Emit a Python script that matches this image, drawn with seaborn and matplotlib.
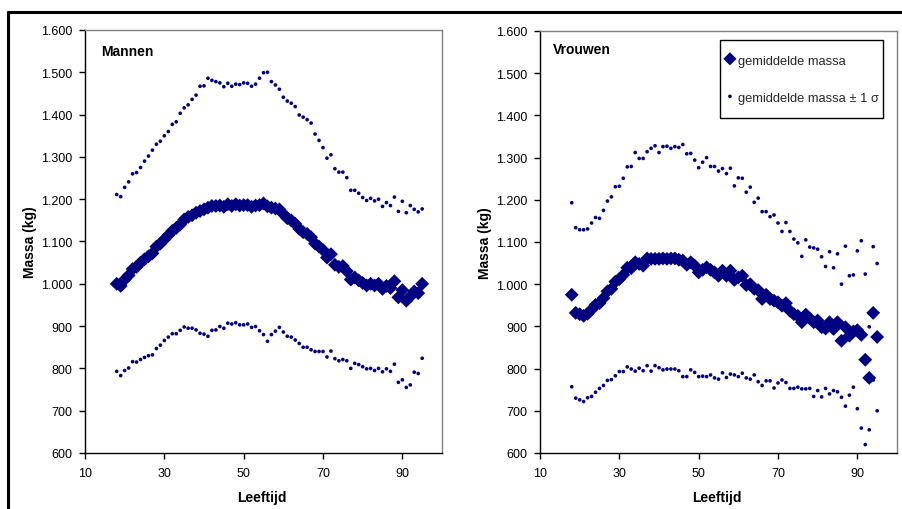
import numpy as np
import pandas as pd
import matplotlib
matplotlib.use("Agg")
import matplotlib.pyplot as plt
from matplotlib.ticker import FuncFormatter, FixedLocator
import seaborn as sns

sns.set_theme(style="white")
plt.rcParams['font.family'] = ['Liberation Sans', 'DejaVu Sans']

ages = list(range(18, 96))

men_mean = [1000, 995, 1010, 1020, 1035, 1040, 1050, 1058, 1065, 1072, 1088, 1095, 1105, 1115,
            1125, 1132, 1140, 1152, 1158, 1162, 1168, 1172, 1176, 1180, 1184, 1184, 1185, 1182,
            1188, 1184, 1188, 1185, 1186, 1186, 1182, 1185, 1186, 1190, 1183, 1180, 1178, 1176,
            1165, 1155, 1150, 1142, 1130, 1122, 1118, 1110, 1095, 1088, 1080, 1062, 1070, 1045,
            1040, 1042, 1030, 1010, 1015, 1008, 1002, 996, 1000, 996, 1000, 988, 995, 990,
            1006, 968, 985, 960, 970, 982, 978, 1000]
men_upper = [1211, 1206, 1228, 1241, 1260, 1263, 1275, 1290, 1302, 1316, 1330, 1337, 1350, 1360,
             1377, 1383, 1403, 1416, 1423, 1436, 1446, 1467, 1468, 1486, 1481, 1478, 1475, 1466,
             1474, 1467, 1472, 1471, 1475, 1474, 1467, 1472, 1486, 1499, 1500, 1478, 1470, 1460,
             1441, 1432, 1427, 1419, 1399, 1394, 1388, 1380, 1354, 1339, 1322, 1297, 1305, 1272,
             1264, 1264, 1251, 1221, 1221, 1214, 1204, 1197, 1202, 1196, 1200, 1183, 1192, 1185,
             1205, 1171, 1195, 1168, 1185, 1176, 1170, 1177]
men_lower = [793, 783, 795, 801, 816, 815, 821, 826, 830, 832, 847, 855, 866, 874,
             882, 882, 890, 898, 895, 895, 891, 883, 881, 876, 890, 891, 899, 895,
             907, 905, 908, 903, 903, 905, 897, 899, 889, 880, 864, 880, 888, 897,
             886, 876, 874, 867, 859, 850, 850, 844, 840, 840, 840, 827, 841, 823,
             818, 821, 818, 800, 812, 809, 804, 799, 800, 795, 800, 792, 799, 793,
             810, 767, 773, 755, 761, 791, 788, 824]

women_mean = [975, 932, 929, 925, 930, 940, 951, 955, 967, 983, 989, 1006, 1012, 1022,
              1039, 1038, 1052, 1048, 1044, 1061, 1060, 1060, 1060, 1061, 1060, 1061, 1061, 1058,
              1056, 1046, 1052, 1044, 1028, 1034, 1040, 1034, 1028, 1020, 1032, 1020, 1032, 1010,
              1016, 1020, 998, 1000, 989, 986, 965, 975, 965, 961, 957, 949, 955, 937,
              929, 925, 910, 928, 919, 910, 914, 898, 895, 910, 894, 910, 866, 898,
              878, 888, 891, 880, 821, 778, 932, 875]
women_upper = [1193, 1134, 1129, 1129, 1131, 1145, 1158, 1156, 1175, 1197, 1207, 1231, 1232, 1251,
               1278, 1279, 1312, 1298, 1298, 1314, 1322, 1328, 1312, 1326, 1327, 1322, 1326, 1324,
               1331, 1309, 1310, 1294, 1276, 1289, 1300, 1279, 1279, 1268, 1274, 1262, 1275, 1233,
               1252, 1251, 1218, 1230, 1194, 1204, 1172, 1172, 1160, 1164, 1145, 1125, 1146, 1125,
               1107, 1098, 1066, 1105, 1088, 1086, 1083, 1065, 1042, 1077, 1039, 1072, 1000, 1090,
               1020, 1022, 1079, 1103, 1024, 899, 1089, 1049]
women_lower = [757, 730, 726, 722, 731, 734, 744, 753, 760, 772, 774, 783, 793, 793,
               804, 799, 794, 801, 795, 807, 794, 807, 802, 797, 799, 799, 799, 795,
               781, 781, 797, 791, 781, 782, 781, 785, 778, 775, 790, 779, 787, 785,
               781, 789, 778, 775, 785, 769, 760, 771, 771, 754, 766, 773, 767, 753,
               753, 756, 752, 752, 753, 734, 748, 733, 753, 740, 748, 745, 732, 711,
               737, 756, 705, 659, 620, 655, 773, 700]

panel_titles = ["Mannen", "Vrouwen"]
x_ticks = [10, 30, 50, 70, 90]
y_ticks = [600, 700, 800, 900, 1000, 1100, 1200, 1300, 1400, 1500, 1600]
label_mean = "gemiddelde massa"
label_sd = "gemiddelde massa ± 1 σ"

navy = "#000080"
W, H = 903, 510
fig = plt.figure(figsize=(W / 100, H / 100), dpi=100)
fig.patch.set_facecolor("white")

# outer frame lines (top and left)
fig.add_artist(plt.Line2D([8 / W, 1.0], [1 - 13 / H, 1 - 13 / H], color="black", lw=2.2,
                          transform=fig.transFigure))
fig.add_artist(plt.Line2D([8 / W, 8 / W], [0, 1 - 13 / H], color="black", lw=2.2,
                          transform=fig.transFigure))

axes_px = [(85, 31, 442, 454), (540, 32, 897, 454)]
datasets = [(men_mean, men_upper, men_lower), (women_mean, women_upper, women_lower)]
title_pos = [(0.045, 0.95), (0.036, 0.957)]

fmt = FuncFormatter(lambda v, p: f"{v:,.0f}".replace(",", "."))

for i, ((x0, y0, x1, y1), (mean, up, lo)) in enumerate(zip(axes_px, datasets)):
    ax = fig.add_axes([x0 / W, 1 - y1 / H, (x1 - x0) / W, (y1 - y0) / H])
    ax.set_facecolor("white")
    df_mean = pd.DataFrame({"age": ages, "mass": mean})
    df_sd = pd.DataFrame({"age": ages * 2, "mass": up + lo})
    sns.scatterplot(data=df_mean, x="age", y="mass", marker="D", s=50, color=navy,
                    edgecolor="none", linewidth=0, ax=ax, label=label_mean, zorder=3)
    sns.scatterplot(data=df_sd, x="age", y="mass", marker="o", s=7, color=navy,
                    edgecolor="none", linewidth=0, ax=ax, label=label_sd, zorder=3)
    ax.set_xlim(10, 100)
    ax.set_ylim(600, 1600)
    ax.xaxis.set_major_locator(FixedLocator(x_ticks))
    ax.yaxis.set_major_locator(FixedLocator(y_ticks))
    ax.yaxis.set_major_formatter(fmt)
    ax.tick_params(axis="both", which="major", direction="out", length=4, width=1,
                   color="black", labelsize=9, labelcolor="black",
                   left=True, bottom=True)
    ax.tick_params(axis="x", pad=6)
    ax.tick_params(axis="y", pad=5)
    for s in ["left", "bottom"]:
        ax.spines[s].set_color("black")
        ax.spines[s].set_linewidth(1.0)
        ax.spines[s].set_visible(True)
    for s in ["top", "right"]:
        ax.spines[s].set_color("#808080")
        ax.spines[s].set_linewidth(1.0)
        ax.spines[s].set_visible(True)
    ax.grid(False)
    ax.set_xlabel("Leeftijd", fontsize=10, fontweight="bold", color="black")
    ax.set_ylabel("Massa (kg)", fontsize=10, fontweight="bold", color="black")
    ax.xaxis.set_label_coords(0.496, -0.087)
    ax.yaxis.set_label_coords(-0.135, 0.5)
    tx, ty = title_pos[i]
    ax.text(tx, ty, panel_titles[i], transform=ax.transAxes, fontsize=10,
            fontweight="bold", ha="left", va="center", color="black")
    if i == 1:
        leg = ax.legend(loc="upper right", bbox_to_anchor=(0.961, 0.979), fontsize=9.3,
                        frameon=True, fancybox=False, framealpha=1, edgecolor="black",
                        labelspacing=0.45, borderpad=0.35, handlelength=0.9,
                        handleheight=3.4, handletextpad=0.15, borderaxespad=0,
                        scatteryoffsets=[0.16])
        leg.get_frame().set_linewidth(1.0)
        hs = getattr(leg, "legend_handles", None) or leg.legendHandles
        hs[0].set_sizes([45])
        hs[1].set_sizes([7])
    else:
        ax.get_legend().remove()

fig.savefig("out.png", dpi=100, facecolor="white")
